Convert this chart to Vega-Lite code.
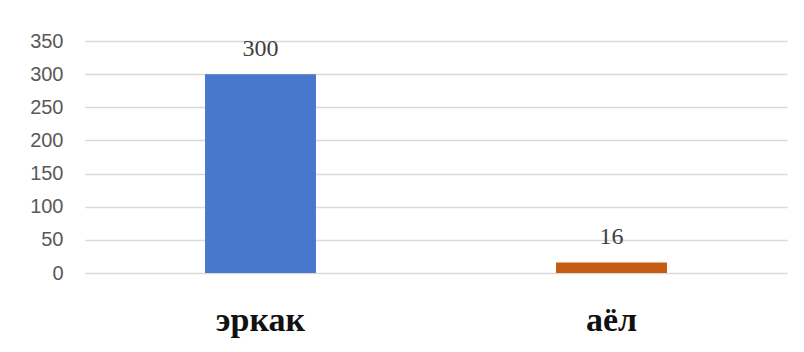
{
  "$schema": "https://vega.github.io/schema/vega-lite/v6.json",
  "autosize": {"type": "none"},
  "padding": {"left": 85, "top": 41, "right": 17, "bottom": 79},
  "width": 702,
  "height": 232,
  "background": "white",
  "config": {"view": {"stroke": null}},
  "data": {"values": [
    {"category": "эркак", "value": 300, "color": "#4877CE"},
    {"category": "аёл", "value": 16, "color": "#C55A11"}
  ]},
  "encoding": {
    "x": {"field": "category", "type": "nominal", "sort": null,
      "scale": {"paddingInner": 0, "paddingOuter": 0},
      "axis": {"title": null, "labelAngle": 0, "domain": false, "ticks": false,
        "labelFont": "Liberation Serif", "labelFontWeight": "bold", "labelFontSize": 34,
        "labelColor": "#111111", "labelPadding": 30}},
    "y": {"field": "value", "type": "quantitative",
      "scale": {"domain": [0, 350]},
      "axis": {"title": null, "values": [0, 50, 100, 150, 200, 250, 300, 350],
        "domain": false, "ticks": false, "gridColor": "#D9D9D9", "gridWidth": 1.5,
        "labelFont": "Liberation Sans", "labelFontSize": 20, "labelColor": "#595959",
        "labelPadding": 22}}
  },
  "layer": [
    {"mark": {"type": "bar", "width": {"band": 0.316}},
     "encoding": {"color": {"field": "color", "type": "nominal", "scale": null}}},
    {"mark": {"type": "text", "baseline": "bottom", "dy": -13, "font": "Liberation Serif", "fontSize": 24, "color": "#404040"},
     "encoding": {"text": {"field": "value", "type": "quantitative"}}}
  ]
}
